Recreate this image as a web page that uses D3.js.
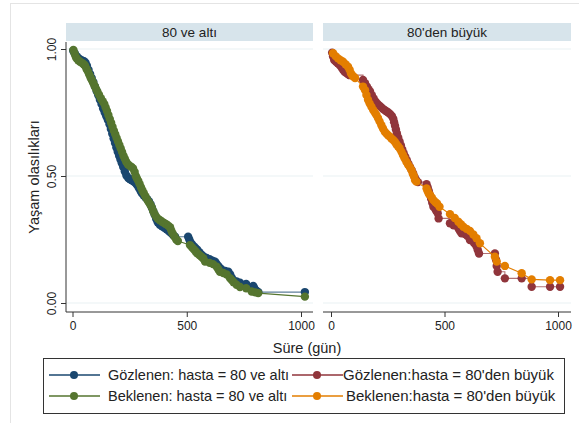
<!DOCTYPE html>
<html><head><meta charset="utf-8">
<script src="https://cdn.jsdelivr.net/npm/d3@7"></script>
<style>body{margin:0;background:#fff}svg{display:block}text{font-family:"Liberation Sans",Arial,sans-serif;fill:#222}</style>
</head><body><svg id="c" width="579" height="423"></svg>
<script>
const panels = ["80 ve altı", "80'den büyük"];
const xTicks = [0, 500, 1000];
const yTicks = [0, 0.5, 1];
const yTickLabels = ["0.00", "0.50", "1.00"];
const legendLabels = ["Gözlenen: hasta = 80 ve altı", "Beklenen: hasta = 80 ve altı", "Gözlenen:hasta = 80'den büyük", "Beklenen:hasta = 80'den büyük"];
const colors = ["#1a476f", "#55752f", "#90353b", "#e37e00"];

// observed (Kaplan-Meier), hasta = 80 ve altı  [time, survival]
const obsLow = [[3,0.993],[10,0.982],[18,0.972],[28,0.963],[40,0.956],[50,0.952],[57,0.946],[63,0.934],[70,0.918],[77,0.902],[84,0.886],[91,0.870],[98,0.852],[106,0.834],[113,0.818],[120,0.800],[127,0.783],[134,0.766],[141,0.750],[148,0.735],[155,0.720],[162,0.704],[168,0.685],[174,0.666],[180,0.648],[186,0.630],[192,0.612],[198,0.595],[204,0.580],[210,0.565],[216,0.550],[222,0.535],[229,0.518],[236,0.502],[244,0.492],[252,0.487],[260,0.483],[268,0.478],[276,0.472],[283,0.464],[290,0.454],[297,0.443],[303,0.433],[311,0.424],[319,0.416],[327,0.409],[335,0.400],[342,0.388],[348,0.374],[354,0.360],[360,0.346],[366,0.332],[373,0.318],[382,0.308],[392,0.302],[402,0.296],[412,0.290],[421,0.283],[430,0.276],[440,0.268],[449,0.261],[506,0.261],[511,0.250],[515,0.240],[522,0.232],[530,0.224],[538,0.217],[546,0.210],[555,0.200],[565,0.190],[575,0.182],[587,0.177],[600,0.172],[612,0.167],[624,0.163],[630,0.155],[638,0.146],[646,0.137],[655,0.130],[668,0.126],[682,0.123],[690,0.112],[697,0.100],[703,0.090],[718,0.085],[733,0.080],[760,0.075],[791,0.067],[795,0.059],[799,0.051],[806,0.047],[813,0.043],[1017,0.043]];
// expected (Cox), hasta = 80 ve altı
const expLow = [[4,0.996],[9,0.982],[14,0.970],[18,0.963],[25,0.956],[33,0.950],[42,0.945],[49,0.940],[55,0.934],[61,0.922],[67,0.912],[73,0.900],[79,0.888],[85,0.877],[91,0.866],[97,0.854],[103,0.843],[109,0.832],[116,0.820],[124,0.806],[132,0.794],[139,0.784],[145,0.770],[151,0.756],[157,0.740],[163,0.725],[169,0.710],[175,0.694],[181,0.678],[187,0.664],[193,0.650],[199,0.636],[205,0.622],[211,0.608],[217,0.594],[223,0.580],[229,0.568],[235,0.556],[242,0.546],[250,0.540],[258,0.536],[265,0.530],[272,0.516],[277,0.500],[282,0.490],[288,0.480],[294,0.468],[300,0.455],[306,0.443],[312,0.432],[319,0.420],[326,0.408],[333,0.398],[340,0.388],[347,0.376],[353,0.362],[359,0.350],[366,0.340],[374,0.332],[383,0.326],[392,0.320],[401,0.315],[410,0.310],[419,0.304],[427,0.298],[432,0.286],[438,0.274],[446,0.262],[454,0.250],[461,0.244],[514,0.228],[522,0.220],[530,0.212],[538,0.204],[546,0.196],[555,0.189],[564,0.182],[572,0.176],[580,0.163],[600,0.158],[615,0.153],[631,0.143],[638,0.133],[645,0.123],[660,0.118],[675,0.112],[689,0.098],[697,0.090],[705,0.082],[718,0.072],[733,0.063],[760,0.058],[784,0.045],[800,0.042],[813,0.039],[1017,0.025]];
// observed (Kaplan-Meier), hasta = 80'den büyük
const obsHigh = [[5,0.985],[9,0.970],[14,0.957],[22,0.950],[30,0.944],[38,0.937],[46,0.928],[53,0.918],[60,0.910],[68,0.905],[76,0.900],[83,0.897],[141,0.878],[150,0.865],[158,0.852],[165,0.842],[172,0.833],[180,0.818],[188,0.805],[196,0.793],[204,0.785],[212,0.778],[220,0.772],[228,0.765],[236,0.760],[244,0.755],[252,0.750],[260,0.744],[268,0.736],[274,0.726],[278,0.712],[282,0.698],[286,0.683],[290,0.668],[296,0.652],[302,0.636],[308,0.620],[314,0.604],[320,0.590],[327,0.576],[334,0.562],[341,0.548],[348,0.536],[355,0.524],[362,0.510],[368,0.496],[375,0.484],[383,0.476],[421,0.468],[426,0.455],[431,0.440],[436,0.425],[441,0.410],[446,0.395],[451,0.379],[462,0.365],[470,0.353],[474,0.333],[524,0.314],[540,0.306],[561,0.294],[568,0.283],[575,0.274],[590,0.272],[600,0.265],[612,0.248],[630,0.236],[641,0.222],[647,0.208],[652,0.195],[722,0.195],[727,0.170],[730,0.146],[734,0.123],[766,0.097],[840,0.097],[884,0.064],[965,0.064],[1009,0.064]];
// expected (Cox), hasta = 80'den büyük
const expHigh = [[9,0.983],[20,0.972],[31,0.963],[42,0.956],[53,0.950],[64,0.940],[75,0.930],[82,0.918],[88,0.904],[94,0.896],[100,0.891],[106,0.886],[141,0.852],[150,0.838],[156,0.819],[163,0.800],[170,0.786],[178,0.773],[186,0.760],[193,0.750],[200,0.740],[207,0.728],[214,0.715],[222,0.700],[229,0.687],[237,0.674],[245,0.666],[252,0.660],[259,0.655],[266,0.648],[274,0.642],[281,0.635],[288,0.625],[295,0.617],[302,0.609],[310,0.596],[317,0.583],[324,0.570],[332,0.556],[339,0.545],[347,0.535],[354,0.524],[360,0.510],[365,0.500],[370,0.484],[376,0.478],[421,0.451],[426,0.440],[431,0.430],[436,0.425],[444,0.415],[451,0.405],[459,0.398],[467,0.392],[478,0.379],[524,0.350],[545,0.335],[561,0.320],[572,0.310],[583,0.300],[597,0.292],[612,0.284],[627,0.270],[641,0.255],[656,0.235],[722,0.182],[730,0.163],[766,0.146],[840,0.117],[884,0.093],[965,0.090],[1009,0.090]];

const svg = d3.select("#c");
// outer frame
svg.append("rect").attr("x",10.5).attr("y",3.5).attr("width",700).attr("height",600).attr("fill","none").attr("stroke","#e4e4e4");

const y = d3.scaleLinear().domain([0,1]).range([303,49]);
const layout = [{x0:66,x1:313,r:[72.5,301]},{x0:323,x1:571,r:[331,558]}];
const series = [[obsLow,expLow],[obsHigh,expHigh]];
const plotTop = 42, plotBot = 312;

layout.forEach((L,i)=>{
  const x = d3.scaleLinear().domain([0,1000]).range(L.r);
  const g = svg.append("g");
  g.append("rect").attr("x",L.x0).attr("y",23).attr("width",L.x1-L.x0).attr("height",18).attr("fill","#d7e4eb");
  g.append("text").attr("x",(L.x0+L.x1)/2).attr("y",37).attr("text-anchor","middle").style("font-size","13.5px").text(panels[i]);
  g.selectAll(".grid").data(yTicks).join("line").attr("x1",L.x0).attr("x2",L.x1)
    .attr("y1",d=>y(d)).attr("y2",d=>y(d)).attr("stroke","#eaf2f3").attr("stroke-width",1.2);
  const xa = g.append("g").attr("transform",`translate(0,${plotBot})`).call(d3.axisBottom(x).tickValues(xTicks).tickSize(5).tickPadding(4).tickFormat(d3.format("d")));
  xa.select(".domain").attr("d",`M${L.x0},0H${L.x1}`).attr("stroke","#333");
  xa.selectAll(".tick line").attr("stroke","#333");
  xa.selectAll("text").style("font-size","12px").style("font-family","Liberation Sans, Arial, sans-serif").attr("fill","#222");
  if(i===0){
    const ya = g.append("g").attr("transform",`translate(${L.x0},0)`).call(d3.axisLeft(y).tickValues(yTicks).tickSize(5).tickFormat((d,k)=>yTickLabels[k]));
    ya.select(".domain").attr("d",`M0,${plotTop}V${plotBot}`).attr("stroke","#333");
    ya.selectAll(".tick line").attr("stroke","#333");
    ya.selectAll("text").attr("x",null).attr("text-anchor","middle")
      .attr("transform","translate(-14,0) rotate(-90)").style("font-size","12px").style("font-family","Liberation Sans, Arial, sans-serif").attr("fill","#222").attr("y",0).attr("dy","0.35em");
  }
  const [obs, exp] = series[i];
  const cObs = colors[i*2], cExp = colors[i*2+1];
  const lineStep = d3.line().x(d=>x(d[0])).y(d=>y(d[1])).curve(d3.curveStepAfter);
  const lineLin = d3.line().x(d=>x(d[0])).y(d=>y(d[1]));
  g.append("path").datum(obs).attr("d",lineStep).attr("fill","none").attr("stroke",cObs).attr("stroke-width",1.1).attr("stroke-opacity",0.7);
  g.selectAll(".po").data(obs).join("circle").attr("cx",d=>x(d[0])).attr("cy",d=>y(d[1])).attr("r",4.2).attr("fill",cObs);
  g.append("path").datum(exp).attr("d",lineLin).attr("fill","none").attr("stroke",cExp).attr("stroke-width",1.1);
  g.selectAll(".pe").data(exp).join("circle").attr("cx",d=>x(d[0])).attr("cy",d=>y(d[1])).attr("r",4.2).attr("fill",cExp);
});

svg.append("text").attr("transform","translate(34,177) rotate(-90)").attr("text-anchor","middle").attr("dy","0.35em").style("font-size","14.5px").text("Yaşam olasılıkları");
svg.append("text").attr("x",307).attr("y",353).attr("text-anchor","middle").style("font-size","14.5px").text("Süre (gün)");

const lg = svg.append("g");
lg.append("rect").attr("x",43.5).attr("y",358.5).attr("width",521).attr("height",55).attr("fill","#fff").attr("stroke","#333");
const legPos = [{lx:49,mx:74,tx:108,y:375},{lx:49,mx:74,tx:108,y:396},{lx:292,mx:317,tx:343,y:375},{lx:292,mx:317,tx:346,y:396}];
legPos.forEach((p,k)=>{
  lg.append("line").attr("x1",p.lx).attr("x2",p.lx+51).attr("y1",p.y).attr("y2",p.y).attr("stroke",colors[k]).attr("stroke-width",1.3);
  lg.append("circle").attr("cx",p.mx).attr("cy",p.y).attr("r",4).attr("fill",colors[k]);
  lg.append("text").attr("x",p.tx).attr("y",p.y).attr("dy","0.35em").style("font-size",k>=2?"15px":"14.5px").text(legendLabels[k]);
});
</script></body></html>
